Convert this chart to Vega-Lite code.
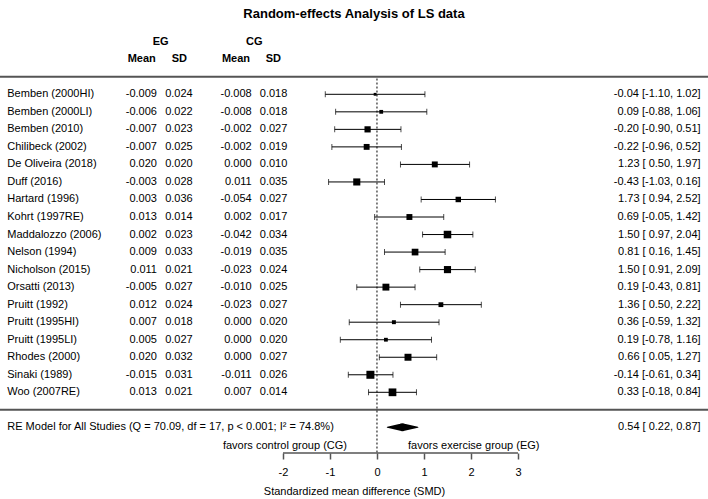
{
  "$schema": "https://vega.github.io/schema/vega-lite/v6.json",
  "width": 708,
  "height": 423,
  "autosize": {"type": "none"},
  "padding": {"left": 0, "right": 0, "top": 30, "bottom": 46},
  "background": "white",
  "title": {"text": "Random-effects Analysis of LS data", "fontSize": 13, "fontWeight": "bold", "font": "Liberation Sans", "anchor": "middle", "offset": 9, "color": "black"},
  "config": {
    "view": {"stroke": null},
    "locale": {"number": {"decimal": ".", "thousands": ",", "grouping": [3], "currency": ["$", ""], "minus": "-"}},
    "text": {"font": "Liberation Sans", "fontSize": 11, "color": "black", "baseline": "middle"},
    "axis": {"labelFont": "Liberation Sans", "titleFont": "Liberation Sans"},
    "axisX": {"domain": false, "grid": false, "tickSize": 6, "tickColor": "#555555", "tickWidth": 1.5, "labelFontSize": 11, "labelColor": "black", "labelPadding": 7, "labelFlush": false, "labelOverlap": false, "titleFontSize": 11, "titleFontWeight": "normal", "titleColor": "black", "titlePadding": 8}
  },
  "datasets": {
    "studies": [
      {"study": "Bemben (2000HI)", "egm": -0.009, "egsd": 0.024, "cgm": -0.008, "cgsd": 0.018, "smd": -0.04, "lo": -1.10, "hi": 1.02, "w": 4.21, "ci": "-0.04 [-1.10, 1.02]"},
      {"study": "Bemben (2000LI)", "egm": -0.006, "egsd": 0.022, "cgm": -0.008, "cgsd": 0.018, "smd": 0.09, "lo": -0.88, "hi": 1.06, "w": 4.55, "ci": "0.09 [-0.88, 1.06]"},
      {"study": "Bemben (2010)", "egm": -0.007, "egsd": 0.023, "cgm": -0.002, "cgsd": 0.027, "smd": -0.20, "lo": -0.90, "hi": 0.51, "w": 5.65, "ci": "-0.20 [-0.90, 0.51]"},
      {"study": "Chilibeck (2002)", "egm": -0.007, "egsd": 0.025, "cgm": -0.002, "cgsd": 0.019, "smd": -0.22, "lo": -0.96, "hi": 0.52, "w": 5.48, "ci": "-0.22 [-0.96, 0.52]"},
      {"study": "De Oliveira (2018)", "egm": 0.020, "egsd": 0.020, "cgm": 0.000, "cgsd": 0.010, "smd": 1.23, "lo": 0.50, "hi": 1.97, "w": 5.51, "ci": "1.23 [ 0.50, 1.97]"},
      {"study": "Duff (2016)", "egm": -0.003, "egsd": 0.028, "cgm": 0.011, "cgsd": 0.035, "smd": -0.43, "lo": -1.03, "hi": 0.16, "w": 6.12, "ci": "-0.43 [-1.03, 0.16]"},
      {"study": "Hartard (1996)", "egm": 0.003, "egsd": 0.036, "cgm": -0.054, "cgsd": 0.027, "smd": 1.73, "lo": 0.94, "hi": 2.52, "w": 5.28, "ci": "1.73 [ 0.94, 2.52]"},
      {"study": "Kohrt (1997RE)", "egm": 0.013, "egsd": 0.014, "cgm": 0.002, "cgsd": 0.017, "smd": 0.69, "lo": -0.05, "hi": 1.42, "w": 5.51, "ci": "0.69 [-0.05, 1.42]"},
      {"study": "Maddalozzo (2006)", "egm": 0.002, "egsd": 0.023, "cgm": -0.042, "cgsd": 0.034, "smd": 1.50, "lo": 0.97, "hi": 2.04, "w": 6.37, "ci": "1.50 [ 0.97, 2.04]"},
      {"study": "Nelson (1994)", "egm": 0.009, "egsd": 0.033, "cgm": -0.019, "cgsd": 0.035, "smd": 0.81, "lo": 0.16, "hi": 1.45, "w": 5.90, "ci": "0.81 [ 0.16, 1.45]"},
      {"study": "Nicholson (2015)", "egm": 0.011, "egsd": 0.021, "cgm": -0.023, "cgsd": 0.024, "smd": 1.50, "lo": 0.91, "hi": 2.09, "w": 6.14, "ci": "1.50 [ 0.91, 2.09]"},
      {"study": "Orsatti (2013)", "egm": -0.005, "egsd": 0.027, "cgm": -0.010, "cgsd": 0.025, "smd": 0.19, "lo": -0.43, "hi": 0.81, "w": 6.01, "ci": "0.19 [-0.43, 0.81]"},
      {"study": "Pruitt (1992)", "egm": 0.012, "egsd": 0.024, "cgm": -0.023, "cgsd": 0.027, "smd": 1.36, "lo": 0.50, "hi": 2.22, "w": 4.98, "ci": "1.36 [ 0.50, 2.22]"},
      {"study": "Pruitt (1995HI)", "egm": 0.007, "egsd": 0.018, "cgm": 0.000, "cgsd": 0.020, "smd": 0.36, "lo": -0.59, "hi": 1.32, "w": 4.61, "ci": "0.36 [-0.59, 1.32]"},
      {"study": "Pruitt (1995LI)", "egm": 0.005, "egsd": 0.027, "cgm": 0.000, "cgsd": 0.020, "smd": 0.19, "lo": -0.78, "hi": 1.16, "w": 4.55, "ci": "0.19 [-0.78, 1.16]"},
      {"study": "Rhodes (2000)", "egm": 0.020, "egsd": 0.032, "cgm": 0.000, "cgsd": 0.027, "smd": 0.66, "lo": 0.05, "hi": 1.27, "w": 6.05, "ci": "0.66 [ 0.05, 1.27]"},
      {"study": "Sinaki (1989)", "egm": -0.015, "egsd": 0.031, "cgm": -0.011, "cgsd": 0.026, "smd": -0.14, "lo": -0.61, "hi": 0.34, "w": 6.62, "ci": "-0.14 [-0.61, 0.34]"},
      {"study": "Woo (2007RE)", "egm": 0.013, "egsd": 0.021, "cgm": 0.007, "cgsd": 0.014, "smd": 0.33, "lo": -0.18, "hi": 0.84, "w": 6.47, "ci": "0.33 [-0.18, 0.84]"}
    ],
    "pooled": [
      {"label": "RE Model for All Studies (Q = 70.09, df = 17, p < 0.001; I² = 74.8%)", "est": 0.54, "lo": 0.22, "hi": 0.87, "ci": "0.54 [ 0.22, 0.87]"}
    ],
    "blank": [{}]
  },
  "layer": [
    {
      "data": {"name": "blank"},
      "mark": {"type": "rule", "color": "#555555", "strokeWidth": 2},
      "encoding": {
        "y": {"datum": 0, "type": "quantitative", "scale": {"domain": [-2.668, 21.462], "reverse": true, "nice": false, "zero": false}, "axis": null}
      }
    },
    {
      "data": {"name": "blank"},
      "mark": {"type": "rule", "color": "#555555", "strokeWidth": 2},
      "encoding": {
        "y": {"datum": 19, "type": "quantitative", "scale": {"domain": [-2.668, 21.462], "reverse": true, "nice": false, "zero": false}, "axis": null}
      }
    },
    {
      "data": {"name": "blank"},
      "mark": {"type": "rule", "color": "black", "strokeWidth": 1, "strokeDash": [2, 2]},
      "encoding": {
        "x": {"datum": 0, "type": "quantitative", "scale": {"domain": [-8.021, 7.043], "nice": false, "zero": false}, "axis": {"values": [-2, -1, 0, 1, 2, 3], "title": "Standardized mean difference (SMD)"}},
        "y": {"datum": 0.1, "type": "quantitative", "scale": {"domain": [-2.668, 21.462], "reverse": true, "nice": false, "zero": false}, "axis": null},
        "y2": {"datum": 21.462}
      }
    },
    {
      "data": {"name": "blank"},
      "mark": {"type": "rule", "color": "#555555", "strokeWidth": 1.5},
      "encoding": {
        "x": {"datum": -2, "type": "quantitative", "scale": {"domain": [-8.021, 7.043], "nice": false, "zero": false}, "axis": {"values": [-2, -1, 0, 1, 2, 3], "title": "Standardized mean difference (SMD)"}},
        "x2": {"datum": 3},
        "y": {"datum": 21.462, "type": "quantitative", "scale": {"domain": [-2.668, 21.462], "reverse": true, "nice": false, "zero": false}, "axis": null}
      }
    },
    {
      "data": {"name": "studies"},
      "transform": [{"window": [{"op": "row_number", "as": "row"}]}],
      "layer": [
        {
          "mark": {"type": "rule", "color": "black", "strokeWidth": 1},
          "encoding": {
            "x": {"field": "lo", "type": "quantitative", "scale": {"domain": [-8.021, 7.043], "nice": false, "zero": false}, "axis": {"values": [-2, -1, 0, 1, 2, 3], "title": "Standardized mean difference (SMD)"}},
            "x2": {"field": "hi"},
            "y": {"field": "row", "type": "quantitative", "scale": {"domain": [-2.668, 21.462], "reverse": true, "nice": false, "zero": false}, "axis": null}
          }
        },
        {
          "mark": {"type": "tick", "orient": "vertical", "color": "black", "thickness": 1, "size": 6},
          "encoding": {
            "x": {"field": "lo", "type": "quantitative", "scale": {"domain": [-8.021, 7.043], "nice": false, "zero": false}, "axis": {"values": [-2, -1, 0, 1, 2, 3], "title": "Standardized mean difference (SMD)"}},
            "y": {"field": "row", "type": "quantitative", "scale": {"domain": [-2.668, 21.462], "reverse": true, "nice": false, "zero": false}, "axis": null}
          }
        },
        {
          "mark": {"type": "tick", "orient": "vertical", "color": "black", "thickness": 1, "size": 6},
          "encoding": {
            "x": {"field": "hi", "type": "quantitative", "scale": {"domain": [-8.021, 7.043], "nice": false, "zero": false}, "axis": {"values": [-2, -1, 0, 1, 2, 3], "title": "Standardized mean difference (SMD)"}},
            "y": {"field": "row", "type": "quantitative", "scale": {"domain": [-2.668, 21.462], "reverse": true, "nice": false, "zero": false}, "axis": null}
          }
        },
        {
          "mark": {"type": "point", "shape": "square", "filled": true, "color": "black", "opacity": 1, "strokeWidth": 0},
          "encoding": {
            "x": {"field": "smd", "type": "quantitative", "scale": {"domain": [-8.021, 7.043], "nice": false, "zero": false}, "axis": {"values": [-2, -1, 0, 1, 2, 3], "title": "Standardized mean difference (SMD)"}},
            "y": {"field": "row", "type": "quantitative", "scale": {"domain": [-2.668, 21.462], "reverse": true, "nice": false, "zero": false}, "axis": null},
            "size": {"field": "w", "type": "quantitative", "scale": {"type": "pow", "exponent": 2, "domain": [4.21, 6.62], "range": [8, 64], "zero": false}, "legend": null}
          }
        },
        {
          "mark": {"type": "text", "align": "left"},
          "encoding": {
            "x": {"datum": -7.866, "type": "quantitative", "scale": {"domain": [-8.021, 7.043], "nice": false, "zero": false}, "axis": {"values": [-2, -1, 0, 1, 2, 3], "title": "Standardized mean difference (SMD)"}},
            "y": {"field": "row", "type": "quantitative", "scale": {"domain": [-2.668, 21.462], "reverse": true, "nice": false, "zero": false}, "axis": null},
            "text": {"field": "study"}
          }
        },
        {
          "mark": {"type": "text", "align": "right"},
          "encoding": {
            "x": {"datum": -4.681, "type": "quantitative", "scale": {"domain": [-8.021, 7.043], "nice": false, "zero": false}, "axis": {"values": [-2, -1, 0, 1, 2, 3], "title": "Standardized mean difference (SMD)"}},
            "y": {"field": "row", "type": "quantitative", "scale": {"domain": [-2.668, 21.462], "reverse": true, "nice": false, "zero": false}, "axis": null},
            "text": {"field": "egm", "format": ".3f"}
          }
        },
        {
          "mark": {"type": "text", "align": "right"},
          "encoding": {
            "x": {"datum": -3.921, "type": "quantitative", "scale": {"domain": [-8.021, 7.043], "nice": false, "zero": false}, "axis": {"values": [-2, -1, 0, 1, 2, 3], "title": "Standardized mean difference (SMD)"}},
            "y": {"field": "row", "type": "quantitative", "scale": {"domain": [-2.668, 21.462], "reverse": true, "nice": false, "zero": false}, "axis": null},
            "text": {"field": "egsd", "format": ".3f"}
          }
        },
        {
          "mark": {"type": "text", "align": "right"},
          "encoding": {
            "x": {"datum": -2.666, "type": "quantitative", "scale": {"domain": [-8.021, 7.043], "nice": false, "zero": false}, "axis": {"values": [-2, -1, 0, 1, 2, 3], "title": "Standardized mean difference (SMD)"}},
            "y": {"field": "row", "type": "quantitative", "scale": {"domain": [-2.668, 21.462], "reverse": true, "nice": false, "zero": false}, "axis": null},
            "text": {"field": "cgm", "format": ".3f"}
          }
        },
        {
          "mark": {"type": "text", "align": "right"},
          "encoding": {
            "x": {"datum": -1.908, "type": "quantitative", "scale": {"domain": [-8.021, 7.043], "nice": false, "zero": false}, "axis": {"values": [-2, -1, 0, 1, 2, 3], "title": "Standardized mean difference (SMD)"}},
            "y": {"field": "row", "type": "quantitative", "scale": {"domain": [-2.668, 21.462], "reverse": true, "nice": false, "zero": false}, "axis": null},
            "text": {"field": "cgsd", "format": ".3f"}
          }
        },
        {
          "mark": {"type": "text", "align": "right"},
          "encoding": {
            "x": {"datum": 6.887, "type": "quantitative", "scale": {"domain": [-8.021, 7.043], "nice": false, "zero": false}, "axis": {"values": [-2, -1, 0, 1, 2, 3], "title": "Standardized mean difference (SMD)"}},
            "y": {"field": "row", "type": "quantitative", "scale": {"domain": [-2.668, 21.462], "reverse": true, "nice": false, "zero": false}, "axis": null},
            "text": {"field": "ci"}
          }
        }
      ]
    },
    {
      "data": {"name": "pooled"},
      "layer": [
        {
          "transform": [{"fold": ["lo", "est", "hi"], "as": ["part", "value"]}],
          "mark": {"type": "trail", "color": "black"},
          "encoding": {
            "x": {"field": "value", "type": "quantitative", "scale": {"domain": [-8.021, 7.043], "nice": false, "zero": false}, "axis": {"values": [-2, -1, 0, 1, 2, 3], "title": "Standardized mean difference (SMD)"}},
            "y": {"datum": 20, "type": "quantitative", "scale": {"domain": [-2.668, 21.462], "reverse": true, "nice": false, "zero": false}, "axis": null},
            "size": {"field": "part", "type": "nominal", "scale": {"type": "ordinal", "domain": ["lo", "est", "hi"], "range": [0, 8, 0]}, "legend": null},
            "order": {"field": "value", "type": "quantitative"}
          }
        },
        {
          "mark": {"type": "text", "align": "left"},
          "encoding": {
            "x": {"datum": -7.866, "type": "quantitative", "scale": {"domain": [-8.021, 7.043], "nice": false, "zero": false}, "axis": {"values": [-2, -1, 0, 1, 2, 3], "title": "Standardized mean difference (SMD)"}},
            "y": {"datum": 20, "type": "quantitative", "scale": {"domain": [-2.668, 21.462], "reverse": true, "nice": false, "zero": false}, "axis": null},
            "text": {"field": "label"}
          }
        },
        {
          "mark": {"type": "text", "align": "right"},
          "encoding": {
            "x": {"datum": 6.887, "type": "quantitative", "scale": {"domain": [-8.021, 7.043], "nice": false, "zero": false}, "axis": {"values": [-2, -1, 0, 1, 2, 3], "title": "Standardized mean difference (SMD)"}},
            "y": {"datum": 20, "type": "quantitative", "scale": {"domain": [-2.668, 21.462], "reverse": true, "nice": false, "zero": false}, "axis": null},
            "text": {"field": "ci"}
          }
        }
      ]
    },
    {
      "data": {"name": "blank"},
      "layer": [
        {"mark": {"type": "text", "align": "center", "fontWeight": "bold"}, "encoding": {"x": {"datum": -4.602, "type": "quantitative", "scale": {"domain": [-8.021, 7.043], "nice": false, "zero": false}, "axis": {"values": [-2, -1, 0, 1, 2, 3], "title": "Standardized mean difference (SMD)"}}, "y": {"datum": -2, "type": "quantitative", "scale": {"domain": [-2.668, 21.462], "reverse": true, "nice": false, "zero": false}, "axis": null}, "text": {"value": "EG"}}},
        {"mark": {"type": "text", "align": "center", "fontWeight": "bold"}, "encoding": {"x": {"datum": -2.610, "type": "quantitative", "scale": {"domain": [-8.021, 7.043], "nice": false, "zero": false}, "axis": {"values": [-2, -1, 0, 1, 2, 3], "title": "Standardized mean difference (SMD)"}}, "y": {"datum": -2, "type": "quantitative", "scale": {"domain": [-2.668, 21.462], "reverse": true, "nice": false, "zero": false}, "axis": null}, "text": {"value": "CG"}}},
        {"mark": {"type": "text", "align": "center", "fontWeight": "bold"}, "encoding": {"x": {"datum": -5.006, "type": "quantitative", "scale": {"domain": [-8.021, 7.043], "nice": false, "zero": false}, "axis": {"values": [-2, -1, 0, 1, 2, 3], "title": "Standardized mean difference (SMD)"}}, "y": {"datum": -1, "type": "quantitative", "scale": {"domain": [-2.668, 21.462], "reverse": true, "nice": false, "zero": false}, "axis": null}, "text": {"value": "Mean"}}},
        {"mark": {"type": "text", "align": "center", "fontWeight": "bold"}, "encoding": {"x": {"datum": -4.206, "type": "quantitative", "scale": {"domain": [-8.021, 7.043], "nice": false, "zero": false}, "axis": {"values": [-2, -1, 0, 1, 2, 3], "title": "Standardized mean difference (SMD)"}}, "y": {"datum": -1, "type": "quantitative", "scale": {"domain": [-2.668, 21.462], "reverse": true, "nice": false, "zero": false}, "axis": null}, "text": {"value": "SD"}}},
        {"mark": {"type": "text", "align": "center", "fontWeight": "bold"}, "encoding": {"x": {"datum": -3.0, "type": "quantitative", "scale": {"domain": [-8.021, 7.043], "nice": false, "zero": false}, "axis": {"values": [-2, -1, 0, 1, 2, 3], "title": "Standardized mean difference (SMD)"}}, "y": {"datum": -1, "type": "quantitative", "scale": {"domain": [-2.668, 21.462], "reverse": true, "nice": false, "zero": false}, "axis": null}, "text": {"value": "Mean"}}},
        {"mark": {"type": "text", "align": "center", "fontWeight": "bold"}, "encoding": {"x": {"datum": -2.206, "type": "quantitative", "scale": {"domain": [-8.021, 7.043], "nice": false, "zero": false}, "axis": {"values": [-2, -1, 0, 1, 2, 3], "title": "Standardized mean difference (SMD)"}}, "y": {"datum": -1, "type": "quantitative", "scale": {"domain": [-2.668, 21.462], "reverse": true, "nice": false, "zero": false}, "axis": null}, "text": {"value": "SD"}}},
        {"mark": {"type": "text", "align": "right"}, "encoding": {"x": {"datum": -0.638, "type": "quantitative", "scale": {"domain": [-8.021, 7.043], "nice": false, "zero": false}, "axis": {"values": [-2, -1, 0, 1, 2, 3], "title": "Standardized mean difference (SMD)"}}, "y": {"datum": 21.05, "type": "quantitative", "scale": {"domain": [-2.668, 21.462], "reverse": true, "nice": false, "zero": false}, "axis": null}, "text": {"value": "favors control group (CG)"}}},
        {"mark": {"type": "text", "align": "left"}, "encoding": {"x": {"datum": 0.66, "type": "quantitative", "scale": {"domain": [-8.021, 7.043], "nice": false, "zero": false}, "axis": {"values": [-2, -1, 0, 1, 2, 3], "title": "Standardized mean difference (SMD)"}}, "y": {"datum": 21.05, "type": "quantitative", "scale": {"domain": [-2.668, 21.462], "reverse": true, "nice": false, "zero": false}, "axis": null}, "text": {"value": "favors exercise group (EG)"}}}
      ]
    }
  ]
}
